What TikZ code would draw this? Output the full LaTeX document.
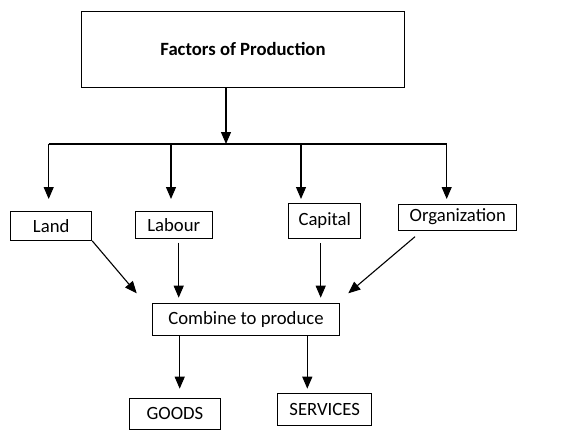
\documentclass[tikz,border=0pt]{standalone}
\usepackage{fontspec}
\setmainfont{Carlito}
\usetikzlibrary{arrows.meta}
\begin{document}
\begin{tikzpicture}[x=1pt,y=-1pt,
  box/.style={draw, line width=1pt, inner sep=0pt, font=\fontsize{18.7}{22}\selectfont},
  arr/.style={line width=1.1pt, -{Triangle[length=12pt,width=10pt]}},
  ln/.style={line width=1.1pt}]
\useasboundingbox (0,0) rectangle (567,436);
% boxes
\node[box, minimum width=322.6pt, minimum height=76.3pt, font=\bfseries\fontsize{18.7}{22}\selectfont] (top) at (243,49.2) {Factors of Production};
\node[box, minimum width=81pt, minimum height=29.3pt] (land) at (51.2,225.7) {Land};
\node[box, minimum width=77.3pt, minimum height=27.3pt] (labour) at (173.7,224.7) {Labour};
\node[box, minimum width=72pt, minimum height=34.7pt] (capital) at (324.7,220.7) {Capital};
\node[box, minimum width=117.7pt, minimum height=26pt] (org) at (457.8,217) {Organization};
\node[box, minimum width=187.4pt, minimum height=32pt] (comb) at (246,319.3) {Combine to produce};
\node[box, minimum width=91.4pt, minimum height=31pt] (goods) at (175,413.8) {GOODS};
\node[box, minimum width=94pt, minimum height=31.7pt] (serv) at (324.7,409.2) {SERVICES};
% coordinates
\coordinate (bus) at (226,144);
\coordinate (b1) at (48.7,144);
\coordinate (b2) at (171,144);
\coordinate (b3) at (301,144);
\coordinate (b4) at (446.7,144);
\coordinate (t1) at (48.7,199);
\coordinate (t2) at (171,199);
\coordinate (t3) at (301,199);
\coordinate (t4) at (446.7,199);
\coordinate (s2) at (178.7,242.7);
\coordinate (s3) at (320.7,243.3);
\coordinate (s4) at (415,236.7);
\coordinate (c1) at (136.7,293.3);
\coordinate (c2) at (178.7,297.7);
\coordinate (c3) at (320.7,297.7);
\coordinate (c4) at (348.3,293.3);
\coordinate (g0) at (179.7,335.3);
\coordinate (g1) at (179.7,388.7);
\coordinate (v0) at (307.3,335.3);
\coordinate (v1) at (307.3,388.7);
% connectors
\draw[arr] (top.south -| bus) -- (bus);
\draw[ln] (b1) -- (b4);
\draw[arr] (b1) -- (t1);
\draw[arr] (b2) -- (t2);
\draw[arr] (b3) -- (t3);
\draw[arr] (b4) -- (t4);
\draw[arr] (land.south east) -- (c1);
\draw[arr] (s2) -- (c2);
\draw[arr] (s3) -- (c3);
\draw[arr] (s4) -- (c4);
\draw[arr] (g0) -- (g1);
\draw[arr] (v0) -- (v1);
\end{tikzpicture}
\end{document}
